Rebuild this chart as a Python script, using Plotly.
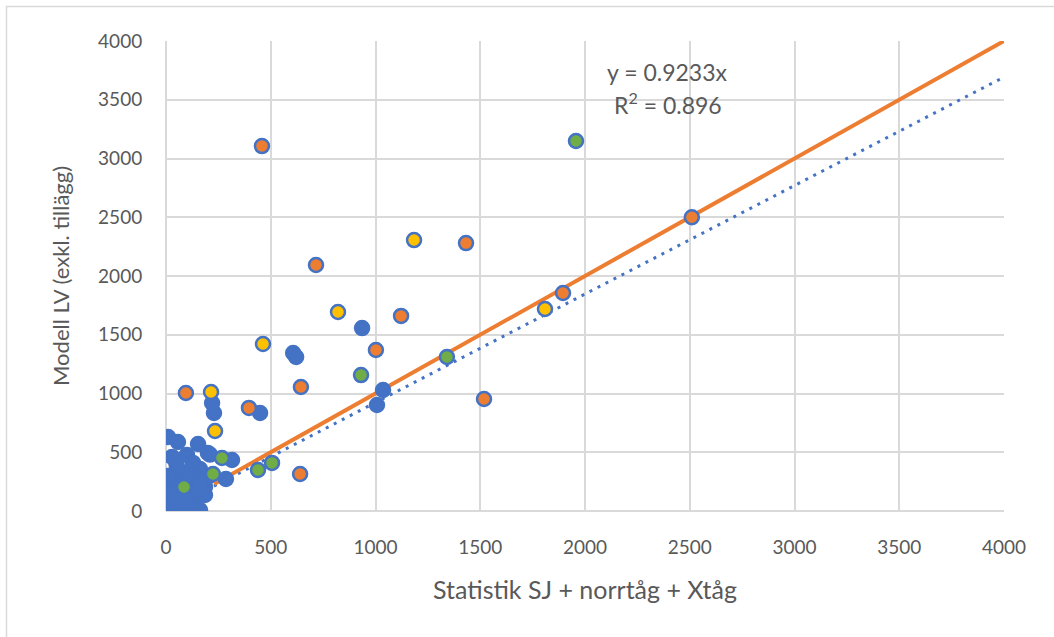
import plotly.graph_objects as go

# --- data ---
blue_x = [10, 57, 153, 200, 210, 29, 100, 129, 162, 29, 5, 5, 43, 10, 76, 138, 162, 186, 186, 129,
          105, 53, 138, 200, 286, 315, 20, 40, 70, 90, 120, 60, 100, 30, 80, 150, 170, 110, 15, 50,
          936, 607, 621, 1036, 1007, 449, 220, 229]
blue_y = [630, 587, 570, 494, 480, 460, 477, 409, 357, 289, 204, 94, 34, 8, 34, 77, 8, 204, 136, 221,
          153, 136, 289, 289, 272, 434, 150, 250, 200, 90, 30, 330, 330, 50, 120, 180, 250, 270, 300, 400,
          1557, 1345, 1311, 1030, 902, 834, 919, 834]

orange_x = [458, 2510, 1432, 716, 1895, 1122, 1002, 644, 95, 396, 1518, 640]
orange_y = [3106, 2500, 2280, 2094, 1855, 1660, 1370, 1055, 1004, 877, 953, 315]

yellow_x = [1184, 821, 1809, 463, 215, 234]
yellow_y = [2306, 1694, 1719, 1421, 1013, 681]

green_x = [1957, 1341, 931, 506, 439, 267, 224, 86]
green_y = [3149, 1311, 1157, 409, 349, 451, 315, 204]

ref_line_x = [230, 4000]
ref_line_y = [230, 4000]

slope = 0.9233
r2 = 0.896
trend_x = [0, 4000]
trend_y = [slope * v for v in trend_x]

ticks = [0, 500, 1000, 1500, 2000, 2500, 3000, 3500, 4000]

BLUE = "#4472C4"
ORANGE = "#ED7D31"
YELLOW = "#FFC000"
GREEN = "#70AD47"
GRID = "#D9D9D9"
TXT = "#595959"
FONT = "Lato"

fig = go.Figure()
fig.add_trace(go.Scatter(x=trend_x, y=trend_y, mode="lines",
                         line=dict(color=BLUE, width=3, dash="3px,6px"), hoverinfo="skip"))
fig.add_trace(go.Scatter(x=ref_line_x, y=ref_line_y, mode="lines",
                         line=dict(color=ORANGE, width=4), hoverinfo="skip"))

def pts(xs, ys, fill):
    return go.Scatter(x=xs, y=ys, mode="markers",
                      marker=dict(size=14, color=fill, line=dict(color=BLUE, width=2.5)))

fig.add_trace(pts(blue_x, blue_y, BLUE))
fig.add_trace(pts(orange_x, orange_y, ORANGE))
fig.add_trace(pts(yellow_x, yellow_y, YELLOW))
fig.add_trace(pts(green_x, green_y, GREEN))

W, H = 1054, 637
L, R, T, B = 166, 50, 41, 126
pw, ph = W - L - R, H - T - B

fig.update_layout(
    width=W, height=H,
    margin=dict(l=L, r=R, t=T, b=B),
    paper_bgcolor="white", plot_bgcolor="white",
    showlegend=False,
    font=dict(family=FONT, color=TXT),
    xaxis=dict(range=[0, 4000], tickvals=ticks, showgrid=True, gridcolor=GRID, gridwidth=1.5,
               zeroline=True, zerolinecolor=GRID, zerolinewidth=2,
               ticks="outside", ticklen=19, tickcolor="rgba(0,0,0,0)",
               tickfont=dict(size=19, color=TXT, family=FONT),
               title=dict(text="Statistik SJ + norrtåg + Xtåg", font=dict(size=25, color=TXT, family=FONT),
                          standoff=24)),
    yaxis=dict(range=[0, 4000], tickvals=ticks, showgrid=True, gridcolor=GRID, gridwidth=1.5,
               zeroline=True, zerolinecolor=GRID, zerolinewidth=2,
               ticks="outside", ticklen=19, tickcolor="rgba(0,0,0,0)",
               tickfont=dict(size=19, color=TXT, family=FONT),
               title=dict(text="Modell LV (exkl. tillägg)", font=dict(size=22, color=TXT, family=FONT),
                          standoff=22)),
)

fig.add_annotation(x=2396, y=3736, xref="x", yref="y", text=f"y = {slope}x", showarrow=False,
                   font=dict(size=23, color=TXT, family=FONT))
fig.add_annotation(x=2396, y=3472, xref="x", yref="y", text=f"R<sup>2</sup> = {r2}", showarrow=False,
                   font=dict(size=23, color=TXT, family=FONT))

# outer chart border (light gray frame)
def px_x(p):
    return (p - L) / pw
def px_y(p):
    return (H - B - p) / ph
fig.add_shape(type="rect", xref="paper", yref="paper",
              x0=px_x(6.5), x1=px_x(W + 10), y0=px_y(H + 10), y1=px_y(6.5),
              line=dict(color=GRID, width=1.5), fillcolor="rgba(0,0,0,0)", layer="below")

fig.write_html("out.html")
